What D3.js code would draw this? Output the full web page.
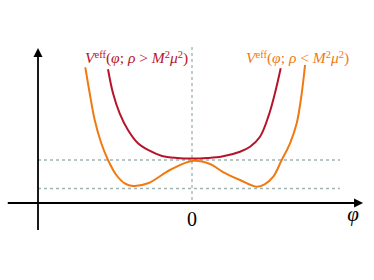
<!DOCTYPE html>
<html>
<head>
<meta charset="utf-8">
<script src="https://cdn.jsdelivr.net/npm/d3@7"></script>
<style>
  body { margin: 0; background: #fff; }
  svg text { font-family: "Liberation Serif", "DejaVu Serif", serif; }
</style>
</head>
<body>
<script>
// curve for rho > M^2 mu^2 (single minimum)
var redPhi = [-1.527, -1.436, -1.315, -1.164, -0.982, -0.8, -0.545, -0.273, 0, 0.273, 0.545, 0.873, 1.055, 1.236, 1.387, 1.509, 1.613];
var redV   = [4.457, 3.657, 2.99, 2.433, 1.99, 1.767, 1.567, 1.5, 1.483, 1.5, 1.55, 1.71, 1.877, 2.21, 2.877, 3.667, 4.49];

// curve for rho < M^2 mu^2 (double well)
var orangePhi = [-1.94, -1.86, -1.769, -1.649, -1.527, -1.376, -1.224, -1.073, -0.8, -0.4, 0, 0.327, 0.564, 0.873, 1.176, 1.327, 1.478, 1.631, 1.782, 1.904, 1.995, 2.055];
var orangeV   = [4.523, 3.657, 2.767, 1.99, 1.433, 0.933, 0.657, 0.567, 0.657, 1.1, 1.4, 1.3, 1.033, 0.767, 0.543, 0.633, 0.877, 1.433, 1.99, 2.657, 3.657, 4.6];

// dashed reference levels
var levels = [1.433, 0.483];

var svgWidth = 374, svgHeight = 280;
var svg = d3.select("body").append("svg")
    .attr("width", svgWidth)
    .attr("height", svgHeight);

var x = d3.scaleLinear().domain([-2, 2]).range([82, 302]);
var y = d3.scaleLinear().domain([0, 5]).range([203, 53]);

var dashColor = "#9fb3b3";

// dashed guides
svg.selectAll(".level")
  .data(levels)
  .enter()
  .append("line")
  .attr("x1", x(-2.8)).attr("x2", x(2.69))
  .attr("y1", function(d){ return y(d); })
  .attr("y2", function(d){ return y(d); })
  .attr("stroke", dashColor)
  .attr("stroke-width", 1.3)
  .attr("stroke-dasharray", "3,3");

svg.append("line")
  .attr("x1", x(0)).attr("x2", x(0))
  .attr("y1", y(5.2)).attr("y2", y(0))
  .attr("stroke", dashColor)
  .attr("stroke-width", 1.3)
  .attr("stroke-dasharray", "3,3");

// axes
svg.append("line")
  .attr("x1", x(-3.35)).attr("x2", x(3.04))
  .attr("y1", y(0)).attr("y2", y(0))
  .attr("stroke", "#000").attr("stroke-width", 1.8);
svg.append("path")
  .attr("d", "M" + x(3.11) + "," + y(0) + "l-9,-4.5l0,9z")
  .attr("fill", "#000");

svg.append("line")
  .attr("x1", x(-2.8)).attr("x2", x(-2.8))
  .attr("y1", y(-0.9)).attr("y2", y(5.0))
  .attr("stroke", "#000").attr("stroke-width", 1.8);
svg.append("path")
  .attr("d", "M" + x(-2.8) + "," + y(5.17) + "l-4.5,9l9,0z")
  .attr("fill", "#000");

// curves
var line = d3.line()
  .x(function(d){ return x(d[0]); })
  .y(function(d){ return y(d[1]); })
  .curve(d3.curveCatmullRom);

svg.append("path")
  .datum(d3.zip(orangePhi, orangeV))
  .attr("d", line)
  .attr("fill", "none")
  .attr("stroke", "#f07a12")
  .attr("stroke-width", 2);

svg.append("path")
  .datum(d3.zip(redPhi, redV))
  .attr("d", line)
  .attr("fill", "none")
  .attr("stroke", "#b5152b")
  .attr("stroke-width", 2);

// tick label and axis label
svg.append("text")
  .attr("x", x(0)).attr("y", 226)
  .attr("text-anchor", "middle")
  .attr("font-size", 20)
  .text("0");

svg.append("text")
  .attr("x", 353).attr("y", 221)
  .attr("text-anchor", "middle")
  .attr("font-size", 21)
  .attr("font-style", "italic")
  .text("φ");

// curve labels
function label(px, py, color, rel){
  var t = svg.append("text")
    .attr("x", px).attr("y", py)
    .attr("font-size", 15.5)
    .attr("fill", color);
  t.append("tspan").attr("font-style", "italic").text("V");
  t.append("tspan").attr("font-size", 10.5).attr("dy", -5).text("eff");
  t.append("tspan").attr("dy", 5).text("(");
  t.append("tspan").attr("font-style", "italic").text("φ");
  t.append("tspan").text("; ");
  t.append("tspan").attr("font-style", "italic").text("ρ");
  t.append("tspan").text(" " + rel + " ");
  t.append("tspan").attr("font-style", "italic").text("M");
  t.append("tspan").attr("font-size", 10.5).attr("dy", -5).text("2");
  t.append("tspan").attr("font-style", "italic").attr("dy", 5).text("μ");
  t.append("tspan").attr("font-size", 10.5).attr("dy", -5).text("2");
  t.append("tspan").attr("dy", 5).text(")");
}
label(85, 63, "#b5152b", ">");
label(246, 63, "#f07a12", "<");
</script>
</body>
</html>
